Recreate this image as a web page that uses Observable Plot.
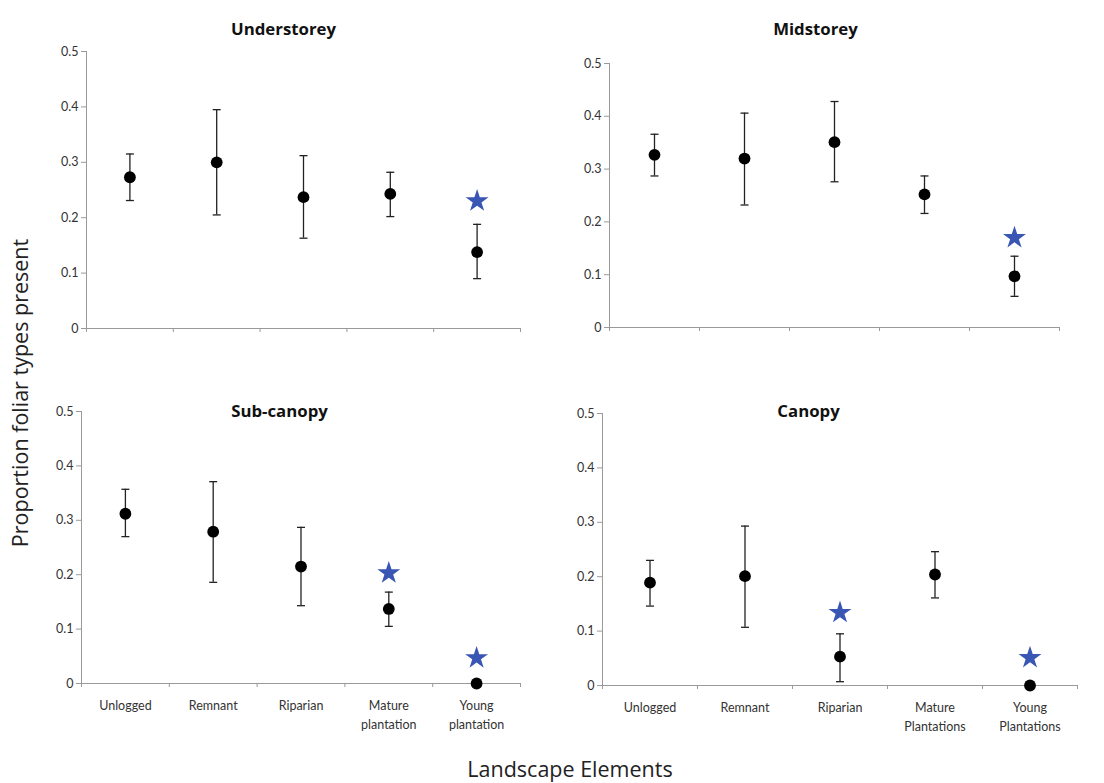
<!DOCTYPE html>
<html>
<head>
<meta charset="utf-8">
<script src="https://cdn.jsdelivr.net/npm/d3@7"></script>
<script src="https://cdn.jsdelivr.net/npm/@observablehq/plot@0.6"></script>
<style>
  html, body { margin: 0; padding: 0; background: #fff; }
  #root { position: relative; width: 1104px; height: 783px; font-family: Lato, "Open Sans", sans-serif; color: #222; }
  .panel { position: absolute; }
  .ylab { position: absolute; left: 20px; top: 393px; transform: translate(-50%, -50%) rotate(-90deg); font-family: "Open Sans", sans-serif; font-size: 21.5px; line-height: 1; white-space: nowrap; color: #222; }
  .xlab { position: absolute; left: 570px; top: 769px; transform: translate(-50%, -50%); font-family: "Open Sans", sans-serif; font-size: 21.5px; line-height: 1; white-space: nowrap; color: #222; }
</style>
</head>
<body>
<div id="root">
  <div class="ylab">Proportion foliar types present</div>
  <div class="xlab">Landscape Elements</div>
</div>
<script>
// Categories
const elements = ["Unlogged", "Remnant", "Riparian", "Mature", "Young"];
const labelsLeft = ["Unlogged", "Remnant", "Riparian", "Mature\nplantation", "Young\nplantation"];
const labelsRight = ["Unlogged", "Remnant", "Riparian", "Mature\nPlantations", "Young\nPlantations"];
const yTicks = [0, 0.1, 0.2, 0.3, 0.4, 0.5];

// Understorey
const underMean  = [0.273, 0.300, 0.237, 0.243, 0.138];
const underLow   = [0.231, 0.205, 0.163, 0.202, 0.090];
const underHigh  = [0.315, 0.395, 0.312, 0.282, 0.188];
const underStar  = [null, null, null, null, 0.230];

// Midstorey
const midMean  = [0.327, 0.320, 0.351, 0.252, 0.097];
const midLow   = [0.287, 0.232, 0.276, 0.216, 0.059];
const midHigh  = [0.366, 0.406, 0.428, 0.287, 0.135];
const midStar  = [null, null, null, null, 0.170];

// Sub-canopy
const subMean  = [0.312, 0.279, 0.215, 0.137, 0.000];
const subLow   = [0.270, 0.186, 0.143, 0.105, null];
const subHigh  = [0.357, 0.371, 0.287, 0.168, null];
const subStar  = [null, null, null, 0.203, 0.047];

// Canopy
const canMean  = [0.189, 0.201, 0.053, 0.204, 0.000];
const canLow   = [0.146, 0.107, 0.007, 0.161, null];
const canHigh  = [0.230, 0.293, 0.095, 0.246, null];
const canStar  = [null, null, 0.134, null, 0.051];

const starColor = "#3a56b5";
const axisColor = "#9a9a9a";

const capSymbol = { draw(ctx) { ctx.moveTo(-4, 0); ctx.lineTo(4, 0); } };

function panel(cfg) {
  const rows = elements.map((e, i) => ({
    pos: i + 0.5,
    mean: cfg.mean[i], low: cfg.low[i], high: cfg.high[i], star: cfg.star[i]
  }));
  const bars = rows.filter(d => d.low != null);
  const stars = rows.filter(d => d.star != null);
  const frameCenter = (cfg.marginLeft + (cfg.width - cfg.marginRight)) / 2;
  const marks = [
    // y axis line
    Plot.ruleX([0], {stroke: axisColor, strokeWidth: 1}),
    Plot.axisY({ticks: yTicks, tickFormat: d => String(d), tickSize: 5, tickPadding: 3,
      stroke: axisColor, fill: "#333", fontSize: 12.5, label: null}),
    // x axis line
    Plot.ruleY([0], {stroke: axisColor, strokeWidth: 1}),
    Plot.axisX({ticks: d3.range(0, elements.length + 1), tickFormat: () => "", tickSize: 4,
      stroke: axisColor, label: null}),
    // error bars
    Plot.ruleX(bars, {x: "pos", y1: "low", y2: "high", stroke: "#222", strokeWidth: 1.3}),
    Plot.dot(bars, {x: "pos", y: "low", symbol: capSymbol, stroke: "#222", strokeWidth: 1.3, fill: "none"}),
    Plot.dot(bars, {x: "pos", y: "high", symbol: capSymbol, stroke: "#222", strokeWidth: 1.3, fill: "none"}),
    // means
    Plot.dot(rows, {x: "pos", y: "mean", r: 5.9, fill: "#000", stroke: "none"}),
    // significance stars
    Plot.dot(stars, {x: "pos", y: "star", symbol: "star", r: 7.2, fill: starColor, stroke: "none"}),
    // title
    Plot.text([cfg.title], {frameAnchor: "top", text: d => d, fontSize: 16.8, fontWeight: "bold",
      fontFamily: "'Open Sans', sans-serif",
      fill: "#111", dx: cfg.titleX - frameCenter, dy: cfg.titleY - cfg.marginTop})
  ];
  if (cfg.labels) {
    marks.push(Plot.axisX({ticks: rows.map(d => d.pos), tickFormat: (d, i) => cfg.labels[i],
      tickSize: 0, tickPadding: 13, fill: "#333", fontSize: 12.5, lineHeight: 1.5, label: null}));
  }
  const chart = Plot.plot({
    width: cfg.width,
    height: cfg.height,
    marginLeft: cfg.marginLeft,
    marginRight: cfg.marginRight,
    marginTop: cfg.marginTop,
    marginBottom: cfg.marginBottom,
    style: {fontFamily: "Lato, 'Open Sans', sans-serif", overflow: "visible", background: "transparent"},
    x: {domain: [0, elements.length]},
    y: {domain: [0, 0.5]},
    marks
  });
  const div = document.createElement("div");
  div.className = "panel";
  div.style.left = cfg.left + "px";
  div.style.top = cfg.top + "px";
  div.appendChild(chart);
  document.getElementById("root").appendChild(div);
}

panel({title: "Understorey", mean: underMean, low: underLow, high: underHigh, star: underStar,
  left: 0, top: 0, width: 550, height: 370, marginLeft: 86, marginRight: 30, marginTop: 51, marginBottom: 42,
  titleX: 283, titleY: 23, labels: null});
panel({title: "Midstorey", mean: midMean, low: midLow, high: midHigh, star: midStar,
  left: 550, top: 0, width: 554, height: 370, marginLeft: 59, marginRight: 45, marginTop: 63, marginBottom: 43,
  titleX: 265, titleY: 23, labels: null});
panel({title: "Sub-canopy", mean: subMean, low: subLow, high: subHigh, star: subStar,
  left: 0, top: 370, width: 550, height: 400, marginLeft: 81, marginRight: 30, marginTop: 41, marginBottom: 87,
  titleX: 279, titleY: 35, labels: labelsLeft});
panel({title: "Canopy", mean: canMean, low: canLow, high: canHigh, star: canStar,
  left: 550, top: 370, width: 554, height: 400, marginLeft: 52, marginRight: 27, marginTop: 43, marginBottom: 85,
  titleX: 258, titleY: 35, labels: labelsRight});
</script>
</body>
</html>
